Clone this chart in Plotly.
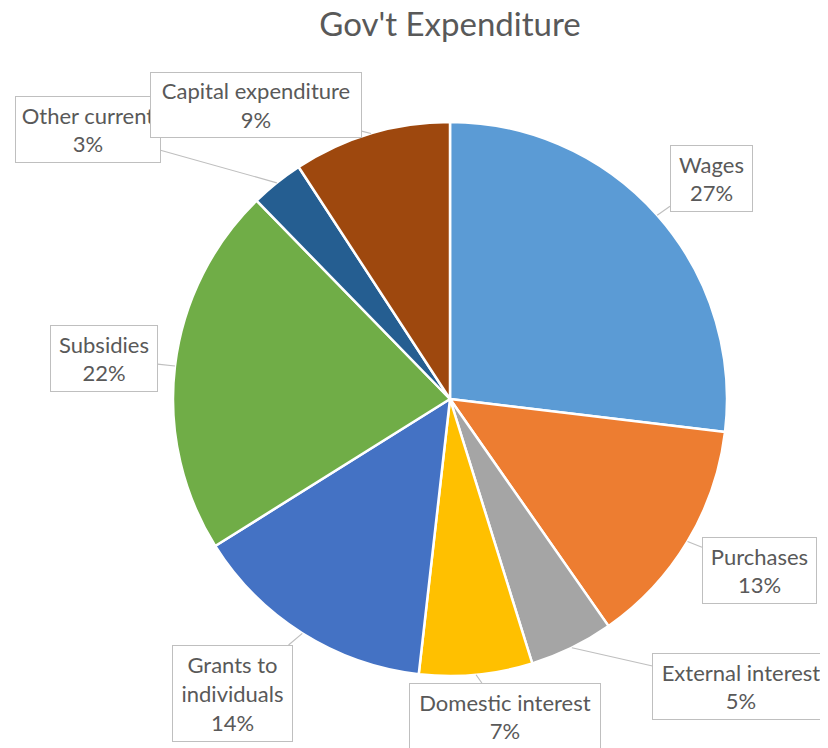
import math
import plotly.graph_objects as go

# ---- data ----
categories = ["Wages", "Purchases", "External interest", "Domestic interest",
              "Grants to individuals", "Subsidies", "Other current", "Capital expenditure"]
label_text = ["Wages", "Purchases", "External interest", "Domestic interest",
              "Grants to<br>individuals", "Subsidies", "Other current", "Capital expenditure"]
values = [26.9, 13.4, 4.9, 6.6, 14.3, 21.6, 3.1, 9.2]
colors = ["#5B9BD5", "#ED7D31", "#A5A5A5", "#FFC000",
          "#4472C4", "#70AD47", "#255E91", "#9E480E"]

# ---- layout geometry (pixels, as seen on screen) ----
W, H = 828, 748
OFF = 8  # page body margin offset
cx, cy, R = 450 - OFF, 399 - OFF, 277
# callout boxes: center x, center y, width, height (screen pixels)
boxes = [(711, 178, 83, 67), (759, 570, 115, 67), (741, 686, 178, 67),
         (505, 716, 192, 67), (232, 693, 121, 97), (104, 358, 108, 67),
         (88, 130, 146, 67), (256, 105, 212, 66)]

TEXT = "#595959"
FONT = "Lato"

fig = go.Figure(go.Pie(
    labels=categories, values=values, sort=False, direction="clockwise",
    rotation=0, textinfo="none", hoverinfo="label+percent",
    marker=dict(colors=colors, line=dict(color="white", width=2.5)),
    domain=dict(x=[(cx - R) / W, (cx + R) / W],
                y=[(H - cy - R) / H, (H - cy + R) / H]),
    showlegend=False,
))

total = sum(values)
annotations = []
cum = 0.0
for name, v, (bx, by, bw, bh) in zip(label_text, values, boxes):
    bx -= OFF
    by -= OFF
    mid = (cum + v / 2) / total * 2 * math.pi
    cum += v
    tx = cx + R * math.sin(mid)
    ty = cy - R * math.cos(mid)
    pct = round(v / total * 100)
    annotations.append(dict(
        x=tx / W, y=1 - ty / H, xref="paper", yref="paper",
        text=f"{name}<br>{pct}%", showarrow=True, arrowhead=0,
        arrowwidth=1.2, arrowcolor="#BFBFBF", standoff=0,
        ax=bx - tx, ay=by - ty, axref="pixel", ayref="pixel",
        width=bw - 2, height=bh - 2, borderpad=0, borderwidth=1,
        bordercolor="#BFBFBF", bgcolor="white", align="center",
        valign="middle", font=dict(family=FONT, size=22, color=TEXT),
    ))

fig.update_layout(
    width=W, height=H, margin=dict(l=0, r=0, t=0, b=0),
    paper_bgcolor="white", plot_bgcolor="white",
    title=dict(text="Gov't Expenditure", x=(450 - OFF) / W, xanchor="center",
               y=1 - (24 - OFF) / H, yanchor="middle", yref="container",
               font=dict(family=FONT, size=33, color=TEXT)),
    annotations=annotations,
)

fig.write_html("out.html")
